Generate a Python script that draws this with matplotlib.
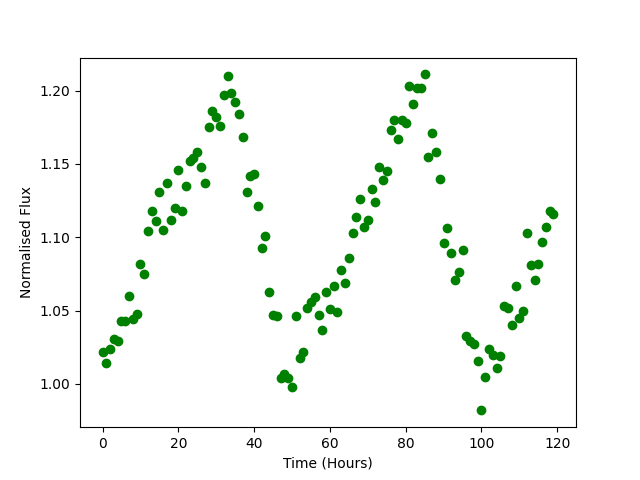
import numpy as np
from matplotlib import pyplot as plt

# hourly normalised flux readings
hours = np.arange(120)
flux = [
    1.022, 1.014, 1.024, 1.031, 1.029, 1.043, 1.043, 1.060, 1.044, 1.048,
    1.082, 1.075, 1.104, 1.118, 1.111, 1.131, 1.105, 1.137, 1.112, 1.120,
    1.146, 1.118, 1.135, 1.152, 1.154, 1.158, 1.148, 1.137, 1.175, 1.186,
    1.182, 1.176, 1.197, 1.210, 1.198, 1.192, 1.184, 1.168, 1.131, 1.142,
    1.143, 1.121, 1.093, 1.101, 1.063, 1.047, 1.046, 1.004, 1.007, 1.004,
    0.998, 1.046, 1.018, 1.022, 1.052, 1.056, 1.059, 1.047, 1.037, 1.063,
    1.051, 1.067, 1.049, 1.078, 1.069, 1.086, 1.103, 1.114, 1.126, 1.107,
    1.112, 1.133, 1.124, 1.148, 1.139, 1.145, 1.173, 1.180, 1.167, 1.180,
    1.178, 1.203, 1.191, 1.202, 1.202, 1.211, 1.155, 1.171, 1.158, 1.140,
    1.096, 1.106, 1.089, 1.071, 1.076, 1.091, 1.033, 1.029, 1.027, 1.016,
    0.982, 1.005, 1.024, 1.020, 1.011, 1.019, 1.053, 1.052, 1.040, 1.067,
    1.045, 1.050, 1.103, 1.081, 1.071, 1.082, 1.097, 1.107, 1.118, 1.116,
]

fig = plt.figure(figsize=(6.4, 4.8), dpi=100)
plt.plot(hours, flux, 'go')
plt.xlabel('Time (Hours)')
plt.ylabel('Normalised Flux')
plt.savefig('out.png')
